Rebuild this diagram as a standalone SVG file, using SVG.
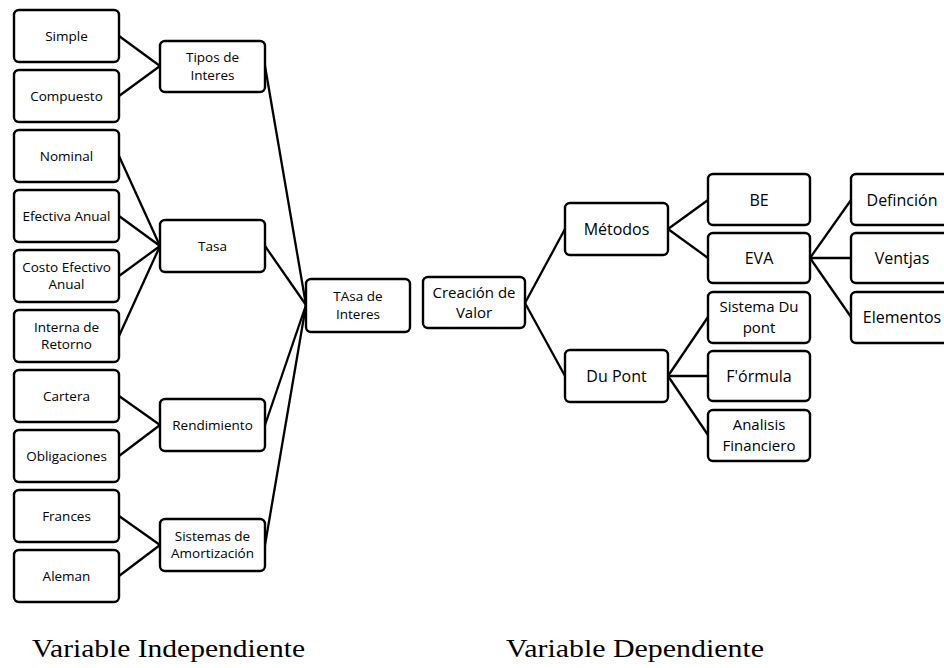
<svg xmlns="http://www.w3.org/2000/svg" width="944" height="668" viewBox="0 0 944 668">
<style>
.n rect{fill:#fff;stroke:#000;stroke-width:2.4;rx:5;ry:5}
.n text{font-family:"Open Sans","Liberation Sans",sans-serif;font-size:13.5px;fill:#000;text-anchor:middle}
.big text{font-size:16px}
.big text.two{font-size:15px}
#connectors line{stroke:#000;stroke-width:2.3}
.lbl{font-family:"Liberation Serif","Times New Roman",serif;font-size:25px;fill:#000}
</style>
<rect width="944" height="668" fill="#fff"/>
<g id="connectors">
<line x1="119" y1="36" x2="160" y2="66"/>
<line x1="119" y1="96" x2="160" y2="66"/>
<line x1="119" y1="156" x2="160" y2="246"/>
<line x1="119" y1="216" x2="160" y2="246"/>
<line x1="119" y1="276" x2="160" y2="246"/>
<line x1="119" y1="336" x2="160" y2="246"/>
<line x1="119" y1="396" x2="160" y2="425"/>
<line x1="119" y1="456" x2="160" y2="425"/>
<line x1="119" y1="516" x2="160" y2="545"/>
<line x1="119" y1="576" x2="160" y2="545"/>
<line x1="265" y1="66" x2="306" y2="305"/>
<line x1="265" y1="246" x2="306" y2="305"/>
<line x1="265" y1="425" x2="306" y2="305"/>
<line x1="265" y1="545" x2="306" y2="305"/>
<line x1="525" y1="303" x2="565" y2="229"/>
<line x1="525" y1="303" x2="565" y2="376"/>
<line x1="668" y1="229" x2="708" y2="200"/>
<line x1="668" y1="229" x2="708" y2="258"/>
<line x1="810" y1="258" x2="851" y2="200"/>
<line x1="810" y1="258" x2="851" y2="258"/>
<line x1="810" y1="258" x2="851" y2="317"/>
<line x1="668" y1="376" x2="708" y2="317"/>
<line x1="668" y1="376" x2="708" y2="376"/>
<line x1="668" y1="376" x2="708" y2="435"/>
</g>
<g id="n-simple" class="n"><rect x="14" y="10" width="105" height="52"/><text x="66.5" y="41">Simple</text></g>
<g id="n-compuesto" class="n"><rect x="14" y="70" width="105" height="52"/><text x="66.5" y="101">Compuesto</text></g>
<g id="n-nominal" class="n"><rect x="14" y="130" width="105" height="52"/><text x="66.5" y="161">Nominal</text></g>
<g id="n-efectiva" class="n"><rect x="14" y="190" width="105" height="52"/><text x="66.5" y="221">Efectiva Anual</text></g>
<g id="n-costo" class="n"><rect x="14" y="250" width="105" height="52"/><text x="66.5" y="271.5">Costo Efectivo</text><text x="66.5" y="288.5">Anual</text></g>
<g id="n-interna" class="n"><rect x="14" y="310" width="105" height="52"/><text x="66.5" y="331.5">Interna de</text><text x="66.5" y="348.5">Retorno</text></g>
<g id="n-cartera" class="n"><rect x="14" y="370" width="105" height="52"/><text x="66.5" y="401">Cartera</text></g>
<g id="n-obligaciones" class="n"><rect x="14" y="430" width="105" height="52"/><text x="66.5" y="461">Obligaciones</text></g>
<g id="n-frances" class="n"><rect x="14" y="490" width="105" height="52"/><text x="66.5" y="521">Frances</text></g>
<g id="n-aleman" class="n"><rect x="14" y="550" width="105" height="52"/><text x="66.5" y="581">Aleman</text></g>
<g id="n-tipos" class="n"><rect x="160" y="41" width="105" height="51"/><text x="212.5" y="62">Tipos de</text><text x="212.5" y="80">Interes</text></g>
<g id="n-tasa" class="n"><rect x="160" y="220" width="105" height="52"/><text x="212.5" y="251">Tasa</text></g>
<g id="n-rendimiento" class="n"><rect x="160" y="399" width="105" height="52"/><text x="212.5" y="430">Rendimiento</text></g>
<g id="n-sistemas" class="n"><rect x="160" y="519" width="105" height="52"/><text x="212.5" y="540.5">Sistemas de</text><text x="212.5" y="557.5">Amortización</text></g>
<g id="n-tasainteres" class="n"><rect x="306" y="279" width="104" height="53"/><text x="358" y="301">TAsa de</text><text x="358" y="318.5">Interes</text></g>
<g id="n-creacion" class="n big"><rect x="423" y="277" width="102" height="51"/><text class="two" x="474" y="297.5">Creación de</text><text class="two" x="474" y="318">Valor</text></g>
<g id="n-metodos" class="n big"><rect x="565" y="203" width="103" height="52"/><text x="616.5" y="234.5">Métodos</text></g>
<g id="n-dupont" class="n big"><rect x="565" y="350" width="103" height="52"/><text x="616.5" y="381.5">Du Pont</text></g>
<g id="n-be" class="n big"><rect x="708" y="174" width="102" height="51"/><text x="759" y="205.5">BE</text></g>
<g id="n-eva" class="n big"><rect x="708" y="233" width="102" height="50"/><text x="759" y="263.5">EVA</text></g>
<g id="n-sistemadupont" class="n big"><rect x="708" y="292" width="102" height="51"/><text class="two" x="759" y="312">Sistema Du</text><text class="two" x="759" y="332.5">pont</text></g>
<g id="n-formula" class="n big"><rect x="708" y="351" width="102" height="50"/><text x="759" y="381.5">F'órmula</text></g>
<g id="n-analisis" class="n big"><rect x="708" y="410" width="102" height="51"/><text class="two" x="759" y="430">Analisis</text><text class="two" x="759" y="450.5">Financiero</text></g>
<g id="n-definicion" class="n big"><rect x="851" y="174" width="103" height="51"/><text x="902" y="205.5">Definción</text></g>
<g id="n-ventjas" class="n big"><rect x="851" y="233" width="103" height="50"/><text x="902" y="263.5">Ventjas</text></g>
<g id="n-elementos" class="n big"><rect x="851" y="292" width="103" height="51"/><text x="902" y="322.5">Elementos</text></g>
<text class="lbl" x="32" y="657" textLength="273" lengthAdjust="spacingAndGlyphs">Variable Independiente</text>
<text class="lbl" x="506" y="657" textLength="258" lengthAdjust="spacingAndGlyphs">Variable Dependiente</text>
</svg>
